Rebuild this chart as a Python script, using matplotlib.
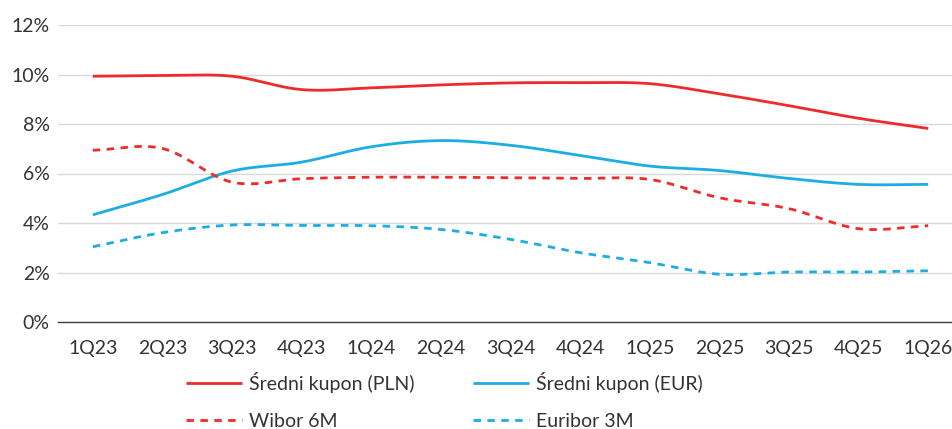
import matplotlib
matplotlib.use("Agg")
import matplotlib.pyplot as plt
import numpy as np

quarters = ["1Q23", "2Q23", "3Q23", "4Q23", "1Q24", "2Q24", "3Q24",
            "4Q24", "1Q25", "2Q25", "3Q25", "4Q25", "1Q26"]
kupon_pln = [9.93, 9.96, 9.93, 9.39, 9.46, 9.58, 9.66, 9.67, 9.63, 9.22, 8.74, 8.23, 7.82]
kupon_eur = [4.33, 5.15, 6.10, 6.46, 7.08, 7.33, 7.14, 6.73, 6.30, 6.12, 5.80, 5.56, 5.56]
wibor_6m = [6.94, 7.01, 5.65, 5.79, 5.85, 5.85, 5.83, 5.80, 5.76, 5.02, 4.58, 3.77, 3.89]
euribor_3m = [3.04, 3.61, 3.92, 3.90, 3.89, 3.74, 3.34, 2.80, 2.40, 1.93, 2.02, 2.02, 2.07]

RED = "#EE2B2B"
BLUE = "#1CADE4"
TEXT = "#333333"


def smooth(y, steps=20):
    """Catmull-Rom curve through the points, like Excel's smoothed line."""
    y = np.asarray(y, dtype=float)
    x = np.arange(len(y), dtype=float)
    px = np.concatenate([[2 * x[0] - x[1]], x, [2 * x[-1] - x[-2]]])
    py = np.concatenate([[2 * y[0] - y[1]], y, [2 * y[-1] - y[-2]]])
    xs, ys = [], []
    t = np.linspace(0, 1, steps, endpoint=False)
    for i in range(1, len(px) - 2):
        p0, p1, p2, p3 = py[i - 1], py[i], py[i + 1], py[i + 2]
        q0, q1, q2, q3 = px[i - 1], px[i], px[i + 1], px[i + 2]
        for a, b, c, d, out in ((q0, q1, q2, q3, xs), (p0, p1, p2, p3, ys)):
            out.extend(0.5 * (2 * b + (-a + c) * t + (2 * a - 5 * b + 4 * c - d) * t ** 2
                              + (-a + 3 * b - 3 * c + d) * t ** 3))
    xs.append(x[-1])
    ys.append(y[-1])
    return np.array(xs), np.array(ys)


plt.rcParams["font.family"] = ["Lato", "DejaVu Sans"]

fig = plt.figure(figsize=(9.52, 4.29), dpi=100)
ax = fig.add_axes([58 / 952, 1 - 322 / 429, (963 - 58) / 952, (322 - 25) / 429])

series = [
    (kupon_pln, "Średni kupon (PLN)", RED, "-"),
    (kupon_eur, "Średni kupon (EUR)", BLUE, "-"),
    (wibor_6m, "Wibor 6M", RED, "--"),
    (euribor_3m, "Euribor 3M", BLUE, "--"),
]
handles = []
for values, label, color, style in series:
    sx, sy = smooth(values)
    (line,) = ax.plot(sx, sy, color=color, linewidth=2.0, linestyle=style,
                      label=label, solid_capstyle="butt", dash_capstyle="butt")
    if style == "--":
        line.set_dashes((2.7, 2.3))
    handles.append(line)

ax.set_xlim(-0.5, len(quarters) - 0.5)
ax.set_ylim(0, 12)
ax.set_xticks(range(len(quarters)))
ax.set_xticklabels(quarters)
ax.set_yticks(range(0, 13, 2))
ax.set_yticklabels([f"{v}%" for v in range(0, 13, 2)])
ax.tick_params(axis="both", length=0, labelsize=14, labelcolor=TEXT)
ax.tick_params(axis="x", pad=13)
ax.tick_params(axis="y", pad=6)
ax.grid(axis="y", color="#D9D9D9", linewidth=1.0)
ax.set_axisbelow(True)
for side in ("top", "right", "left"):
    ax.spines[side].set_visible(False)
ax.spines["bottom"].set_color("#404040")
ax.spines["bottom"].set_linewidth(1.0)

# legend fills column-wise: PLN/Wibor in column 1, EUR/Euribor in column 2
order = [handles[0], handles[2], handles[1], handles[3]]
leg = fig.legend(handles=order, loc="upper left", bbox_to_anchor=(186 / 952, 1 - 372 / 429),
                 ncol=2, frameon=False, fontsize=14, handlelength=2.9, handletextpad=0.35,
                 columnspacing=3.0, labelspacing=1.03, borderaxespad=0, borderpad=0)
for text in leg.get_texts():
    text.set_color(TEXT)

fig.savefig("out.png", dpi=100)
